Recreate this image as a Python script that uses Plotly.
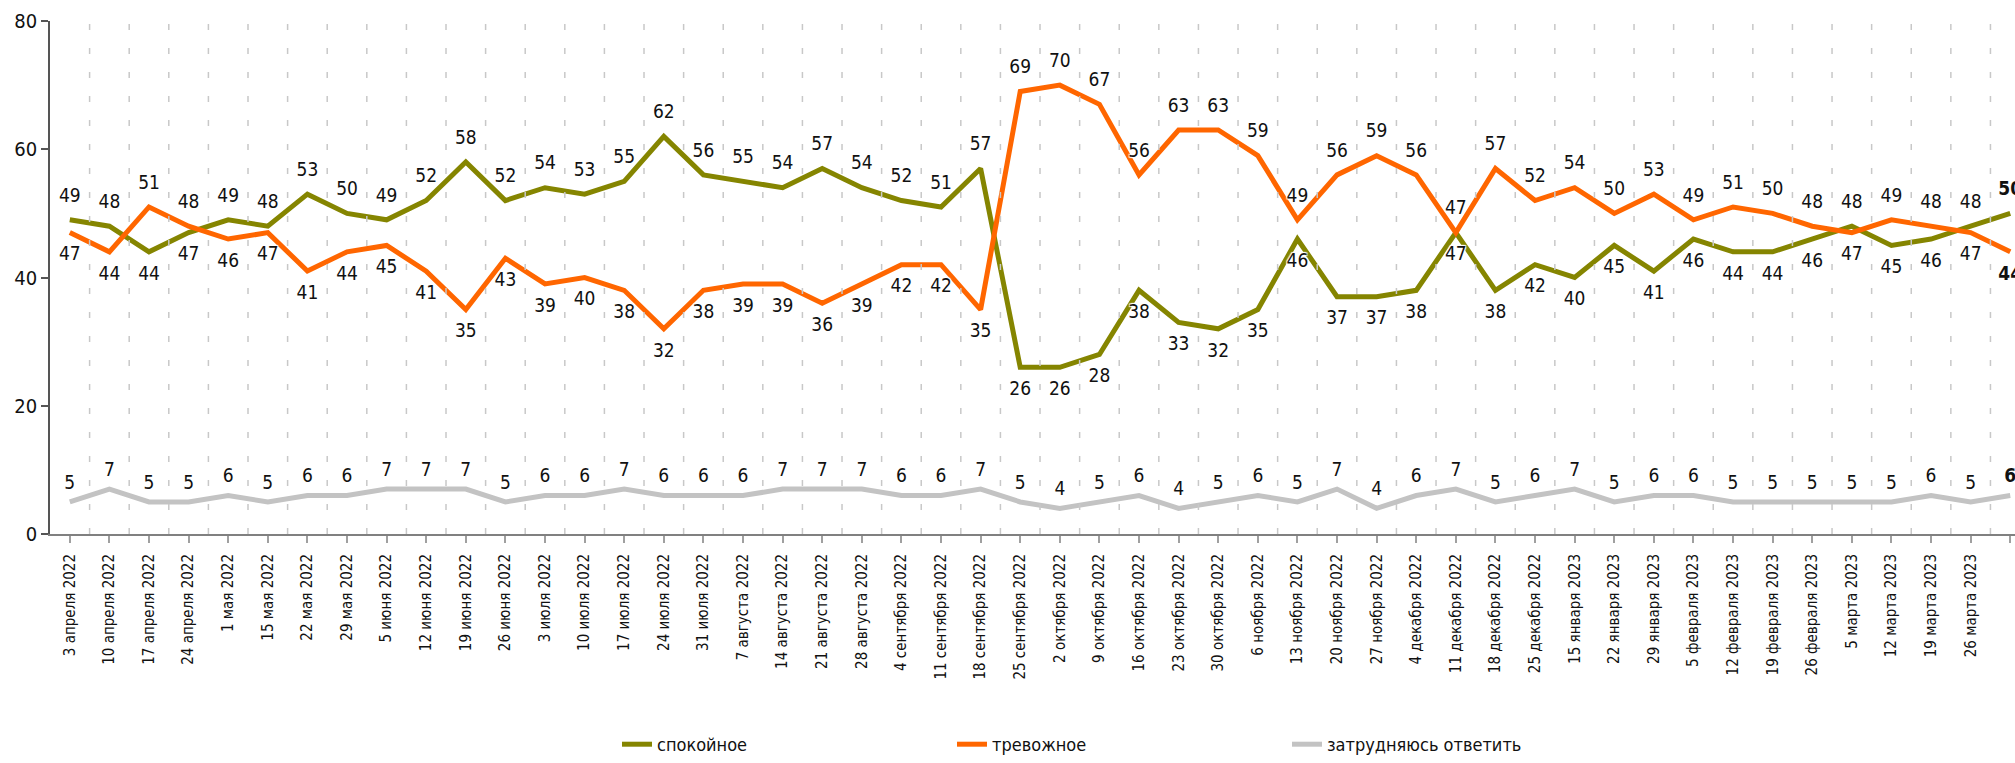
import plotly.graph_objects as go

categories = [
    "3 апреля 2022", "10 апреля 2022", "17 апреля 2022", "24 апреля 2022", "1 мая 2022",
    "15 мая 2022", "22 мая 2022", "29 мая 2022", "5 июня 2022", "12 июня 2022",
    "19 июня 2022", "26 июня 2022", "3 июля 2022", "10 июля 2022", "17 июля 2022",
    "24 июля 2022", "31 июля 2022", "7 августа 2022", "14 августа 2022", "21 августа 2022",
    "28 августа 2022", "4 сентября 2022", "11 сентября 2022", "18 сентября 2022",
    "25 сентября 2022", "2 октября 2022", "9 октября 2022", "16 октября 2022",
    "23 октября 2022", "30 октября 2022", "6 ноября 2022", "13 ноября 2022",
    "20 ноября 2022", "27 ноября 2022", "4 декабря 2022", "11 декабря 2022",
    "18 декабря 2022", "25 декабря 2022", "15 января 2023", "22 января 2023",
    "29 января 2023", "5 февраля 2023", "12 февраля 2023", "19 февраля 2023",
    "26 февраля 2023", "5 марта 2023", "12 марта 2023", "19 марта 2023",
    "26 марта 2023", "2 апреля 2023",
]

calm = [49, 48, 44, 47, 49, 48, 53, 50, 49, 52, 58, 52, 54, 53, 55, 62, 56, 55, 54, 57,
        54, 52, 51, 57, 26, 26, 28, 38, 33, 32, 35, 46, 37, 37, 38, 47, 38, 42, 40, 45,
        41, 46, 44, 44, 46, 48, 45, 46, 48, 50]

anxious = [47, 44, 51, 48, 46, 47, 41, 44, 45, 41, 35, 43, 39, 40, 38, 32, 38, 39, 39, 36,
           39, 42, 42, 35, 69, 70, 67, 56, 63, 63, 59, 49, 56, 59, 56, 47, 57, 52, 54, 50,
           53, 49, 51, 50, 48, 47, 49, 48, 47, 44]

unsure = [5, 7, 5, 5, 6, 5, 6, 6, 7, 7, 7, 5, 6, 6, 7, 6, 6, 6, 7, 7,
          7, 6, 6, 7, 5, 4, 5, 6, 4, 5, 6, 5, 7, 4, 6, 7, 5, 6, 7, 5,
          6, 6, 5, 5, 5, 5, 5, 6, 5, 6]

series_names = ["спокойное", "тревожное", "затрудняюсь ответить"]
colors = ["#858500", "#FF6600", "#C3C3C3"]

FONT = "DejaVu Sans Condensed, Liberation Sans Narrow, sans-serif"
n = len(categories)
xs = list(range(n))


def fmt(vals):
    return [f"<b>{v}</b>" if i == n - 1 else str(v) for i, v in enumerate(vals)]


calm_pos = ["top center" if c > a else "bottom center" for c, a in zip(calm, anxious)]
anx_pos = ["top center" if a >= c else "bottom center" for c, a in zip(calm, anxious)]

label_font = dict(family=FONT, size=19, color="#111111", shadow="auto")

fig = go.Figure()
fig.add_trace(go.Scatter(
    x=xs, y=calm, name=series_names[0], mode="lines+markers+text",
    line=dict(color=colors[0], width=5),
    marker=dict(size=20, color="rgba(0,0,0,0)"),
    text=fmt(calm), textposition=calm_pos, textfont=label_font,
))
fig.add_trace(go.Scatter(
    x=xs, y=anxious, name=series_names[1], mode="lines+markers+text",
    line=dict(color=colors[1], width=5),
    marker=dict(size=20, color="rgba(0,0,0,0)"),
    text=fmt(anxious), textposition=anx_pos, textfont=label_font,
))
fig.add_trace(go.Scatter(
    x=xs, y=unsure, name=series_names[2], mode="lines+markers+text",
    line=dict(color=colors[2], width=5),
    marker=dict(size=12, color="rgba(0,0,0,0)"),
    text=fmt(unsure), textposition="top center", textfont=label_font,
))

# dashed vertical gridlines at category boundaries, drawn above the lines
for k in range(n):
    fig.add_shape(type="line", xref="x", yref="y", x0=k + 0.5, x1=k + 0.5, y0=0, y1=80,
                  line=dict(color="#C8C8C8", width=1.5, dash="6px,18px"), layer="above")

ticktext = [f"<b>{c}</b>" if i == n - 1 else c for i, c in enumerate(categories)]

fig.update_layout(
    width=2015, height=763,
    margin=dict(l=50, r=0, t=21, b=220, pad=0),
    paper_bgcolor="white", plot_bgcolor="white",
    showlegend=True,
    legend=dict(orientation="h", x=(617 - 50) / 1965, xanchor="left", y=-0.411, yanchor="middle",
                font=dict(family=FONT, size=18, color="#111111"),
                entrywidth=290, entrywidthmode="pixels", traceorder="normal"),
    xaxis=dict(
        range=[-0.5, 49.12], tickmode="array", tickvals=xs, ticktext=ticktext,
        tickangle=-90, tickfont=dict(family=FONT, size=15, color="#111111"),
        showgrid=False, zeroline=False, showline=True, linecolor="#808080", linewidth=2,
        ticks="outside", ticklen=7, tickcolor="#A0A0A0", tickwidth=1.5,
        tickson="boundaries", ticklabelstandoff=5,
    ),
    yaxis=dict(
        range=[0, 80], tickmode="array", tickvals=[0, 20, 40, 60, 80],
        tickfont=dict(family=FONT, size=20, color="#111111"),
        showgrid=False, zeroline=False, showline=True, linecolor="#555555", linewidth=1.5,
        ticks="outside", ticklen=7, tickcolor="#555555", tickwidth=1.5,
    ),
    hovermode=False,
)

fig.write_html("out.html", config={"displayModeBar": False},
               post_script="document.body.style.margin='0';document.body.style.overflow='hidden';")
